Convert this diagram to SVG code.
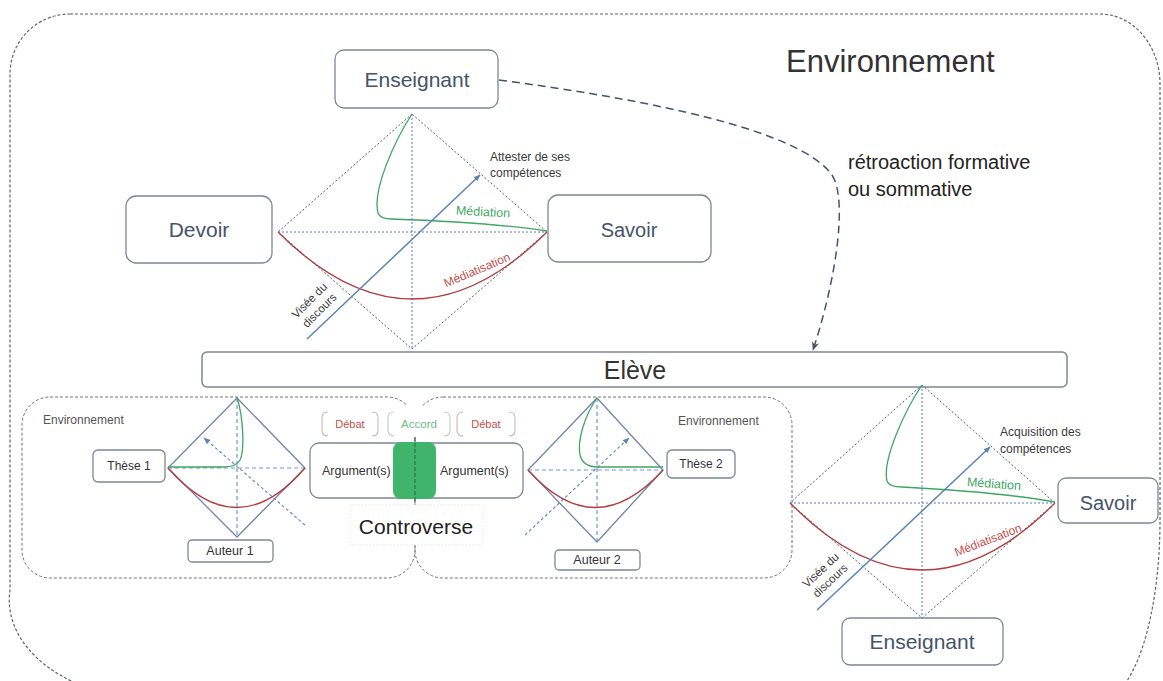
<svg xmlns="http://www.w3.org/2000/svg" width="1163" height="681" viewBox="0 0 1163 681">
<defs>
<style>
text{font-family:"Liberation Sans",Arial,sans-serif;}
.box{fill:#fff;stroke:#7d8796;stroke-width:1.3;}
.lbl{fill:#44546a;text-anchor:middle;}
.frame{fill:none;stroke:#5d6470;stroke-width:1.2;stroke-dasharray:3 2;}
.env{fill:none;stroke:#6e737b;stroke-width:1;stroke-dasharray:3 2;}
.dedge{fill:none;stroke:#56606c;stroke-width:1;stroke-dasharray:2 2;}
.daxis{fill:none;stroke:#5a76c8;stroke-width:1;stroke-dasharray:2 2;}
.sedge{fill:none;stroke:#7384a8;stroke-width:1.3;}
.saxis{fill:none;stroke:#6c9bd2;stroke-width:1.2;stroke-dasharray:4 3;}
.green{fill:none;stroke:#3fa563;stroke-width:1.3;}
.red{fill:none;stroke:#b13c3c;stroke-width:1.3;}
.blue{fill:none;stroke:#5b84b6;stroke-width:1.5;}
.bluedash{fill:none;stroke:#6286b5;stroke-width:1.1;stroke-dasharray:3 2.5;}
.small{fill:#3a3a3a;font-size:12px;}
.brk{fill:#fff;stroke:#c6b8b8;stroke-width:1.1;}
</style>
<marker id="ab" viewBox="0 0 10 10" refX="9" refY="5" markerWidth="7" markerHeight="7" orient="auto" markerUnits="userSpaceOnUse">
<path d="M0,1 L10,5 L0,9 z" fill="#5b84b6"/>
</marker>
<marker id="ad" viewBox="0 0 10 10" refX="9" refY="5" markerWidth="9" markerHeight="9" orient="auto" markerUnits="userSpaceOnUse">
<path d="M0,1 L10,5 L0,9 L3,5 z" fill="#44546a"/>
</marker>
</defs>
<rect width="1163" height="681" fill="#fff"/>

<g id="outer-frame">
<path class="frame" d="M70,14 H1100 A60,70 0 0 1 1160,84 V520 A60,180 0 0 1 1101,700 H158 A150,100 0 0 1 10,590 V74 A60,60 0 0 1 70,14 Z"/>
<text x="786" y="72" font-size="31" fill="#333">Environnement</text>
</g>

<g id="env-boxes">
<rect class="env" x="22" y="397" width="393" height="181" rx="28"/>
<rect class="env" x="415" y="397" width="377" height="181" rx="28"/>
<text x="43" y="424" font-size="12" fill="#555">Environnement</text>
<text x="678" y="425" font-size="12" fill="#555">Environnement</text>
</g>

<g id="connectors">
<path d="M499,80 C650,100 800,130 832,175 C848,200 836,280 813,350" fill="none" stroke="#44546a" stroke-width="1.5" stroke-dasharray="8 5" marker-end="url(#ad)"/>
</g>
<text x="848" y="169" font-size="20" fill="#222">rétroaction formative</text>
<text x="848" y="196" font-size="20" fill="#222">ou sommative</text>

<g id="top-triangle">
<path class="dedge" d="M412,114 L278,232 L412,349 L547,232 Z"/>
<line class="daxis" x1="412" y1="114" x2="412" y2="349"/>
<line class="daxis" x1="278" y1="232" x2="547" y2="232"/>
<path class="green" d="M412,114 C395,140 372,190 378,213 Q380,219 392,219 C450,221 500,224 547,231"/>
<path class="red" d="M278,232 Q412,366 547,232"/>
<line class="blue" x1="307" y1="339" x2="480" y2="175" marker-end="url(#ab)"/>
<text class="small" x="490" y="161">Attester de ses</text>
<text class="small" x="490" y="177">compétences</text>
<text x="483" y="216" font-size="12.5" fill="#3fa563" text-anchor="middle" transform="rotate(3 483 212)">Médiation</text>
<text x="477" y="274" font-size="12" fill="#c0504d" text-anchor="middle" transform="rotate(-23 477 270)">Médiatisation</text>
<g transform="rotate(-45 315 306)">
<text x="315" y="302" font-size="11.5" fill="#3a3a3a" text-anchor="middle">Visée du</text>
<text x="315" y="316" font-size="11.5" fill="#3a3a3a" text-anchor="middle">discours</text>
</g>
</g>

<g id="enseignant-top">
<rect class="box" x="335" y="50" width="163" height="58" rx="9"/>
<text class="lbl" x="417" y="87" font-size="21">Enseignant</text>
</g>
<g id="devoir">
<rect class="box" x="126" y="196" width="146" height="67" rx="10"/>
<text class="lbl" x="199" y="237" font-size="21">Devoir</text>
</g>
<g id="savoir-top">
<rect class="box" x="548" y="195" width="163" height="67" rx="10"/>
<text class="lbl" x="629" y="237" font-size="20">Savoir</text>
</g>

<g id="eleve">
<rect x="202" y="352" width="865" height="35" rx="5" fill="#fff" stroke="#7d8796" stroke-width="1.5"/>
<text x="635" y="379" font-size="25" fill="#333" text-anchor="middle">Elève</text>
</g>

<g id="left-triangle">
<path class="sedge" d="M237,398 L168,468 L237,537 L305,468 Z"/>
<line class="saxis" x1="237" y1="398" x2="237" y2="537"/>
<line class="saxis" x1="168" y1="468" x2="305" y2="468"/>
<path class="green" d="M237,398 C243,415 245,450 240,460 Q236,467 224,467 L168,467"/>
<path class="red" d="M168,468 Q237,547 305,468"/>
<line class="bluedash" x1="305" y1="525" x2="204" y2="438" marker-end="url(#ab)"/>
</g>
<g id="these1">
<rect class="box" x="93" y="450" width="72" height="32" rx="5"/>
<text x="129" y="470" font-size="12" fill="#333" text-anchor="middle">Thèse 1</text>
</g>
<g id="auteur1">
<rect class="box" x="188" y="540" width="85" height="22" rx="4"/>
<text x="230" y="555" font-size="12.5" fill="#333" text-anchor="middle">Auteur 1</text>
</g>

<g id="right-triangle">
<path class="sedge" d="M597,398 L528,470 L597,542 L663,470 Z"/>
<line class="saxis" x1="597" y1="398" x2="597" y2="542"/>
<line class="saxis" x1="528" y1="470" x2="663" y2="470"/>
<path class="green" d="M597,398 C585,415 577,440 580,455 Q583,467 598,467 L663,467"/>
<path class="red" d="M528,470 Q595,545 663,470"/>
<line class="bluedash" x1="525" y1="535" x2="629" y2="438" marker-end="url(#ab)"/>
</g>
<g id="these2">
<rect class="box" x="667" y="450" width="68" height="28" rx="5"/>
<text x="701" y="468" font-size="12" fill="#333" text-anchor="middle">Thèse 2</text>
</g>
<g id="auteur2">
<rect class="box" x="555" y="550" width="85" height="20" rx="4"/>
<text x="597" y="564" font-size="12.5" fill="#333" text-anchor="middle">Auteur 2</text>
</g>

<g id="controverse">
<rect x="384" y="406" width="70" height="32" fill="#fff"/>
<path class="brk" d="M328,412 Q322,412 322,418 V430 Q322,436 328,436 M372,412 Q378,412 378,418 V430 Q378,436 372,436"/>
<path fill="none" stroke="#bccfc2" stroke-width="1.1" d="M394,412 Q388,412 388,418 V430 Q388,436 394,436 M444,412 Q450,412 450,418 V430 Q450,436 444,436"/>
<path class="brk" d="M463,412 Q457,412 457,418 V430 Q457,436 463,436 M509,412 Q515,412 515,418 V430 Q515,436 509,436"/>
<text x="350" y="428" font-size="11" fill="#c0504d" text-anchor="middle">Débat</text>
<text x="419" y="428" font-size="11.5" fill="#6cc08a" text-anchor="middle">Accord</text>
<text x="486" y="428" font-size="11" fill="#c0504d" text-anchor="middle">Débat</text>
<rect class="box" x="310" y="443" width="213" height="55" rx="9"/>
<text x="322" y="475" font-size="12.5" fill="#333">Argument(s)</text>
<text x="440" y="475" font-size="12.5" fill="#333">Argument(s)</text>
<rect x="393" y="442" width="43" height="57" rx="8" fill="#3fb56c"/>
<line x1="415" y1="437" x2="415" y2="503" stroke="#2e7d4a" stroke-width="1.3" stroke-dasharray="4 2"/>
<rect x="350" y="505" width="133" height="40" fill="#fff" stroke="#e6e6e6" stroke-width="1" stroke-dasharray="1 2"/>
<text x="416" y="534" font-size="21" fill="#222" text-anchor="middle">Controverse</text>
</g>

<g id="bottom-triangle">
<path class="dedge" d="M922,385 L790,503 L922,618 L1055,503 Z"/>
<line class="daxis" x1="922" y1="385" x2="922" y2="618"/>
<line class="daxis" x1="790" y1="503" x2="1055" y2="503"/>
<path class="green" d="M922,385 C905,410 882,460 887,481 Q889,487 902,487 C960,490 1010,494 1055,502"/>
<path class="red" d="M790,503 Q922,637 1055,503"/>
<line class="blue" x1="817" y1="610" x2="990" y2="447" marker-end="url(#ab)"/>
<text class="small" x="1000" y="436">Acquisition des</text>
<text class="small" x="1000" y="453">compétences</text>
<text x="994" y="488" font-size="12.5" fill="#3fa563" text-anchor="middle" transform="rotate(4 994 484)">Médiation</text>
<text x="988" y="544" font-size="12" fill="#c0504d" text-anchor="middle" transform="rotate(-21 988 540)">Médiatisation</text>
<g transform="rotate(-43 826 576)">
<text x="826" y="572" font-size="11.5" fill="#3a3a3a" text-anchor="middle">Visée du</text>
<text x="826" y="586" font-size="11.5" fill="#3a3a3a" text-anchor="middle">discours</text>
</g>
</g>
<g id="savoir-bottom">
<rect class="box" x="1058" y="478" width="100" height="45" rx="8"/>
<text class="lbl" x="1108" y="510" font-size="20">Savoir</text>
</g>
<g id="enseignant-bottom">
<rect class="box" x="842" y="618" width="161" height="47" rx="8"/>
<text class="lbl" x="922" y="649" font-size="21">Enseignant</text>
</g>
</svg>
